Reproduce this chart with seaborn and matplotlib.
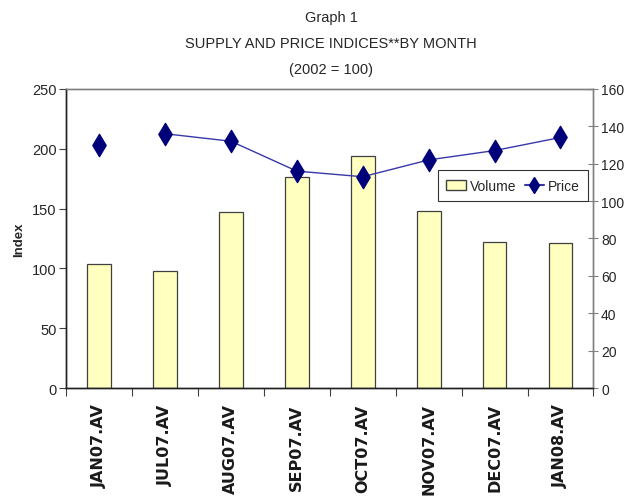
import numpy as np
import pandas as pd
import matplotlib.pyplot as plt
import seaborn as sns
from matplotlib.ticker import FixedLocator

months = ["JAN07.AV", "JUL07.AV", "AUG07.AV", "SEP07.AV",
          "OCT07.AV", "NOV07.AV", "DEC07.AV", "JAN08.AV"]
volume = [104, 98, 147, 176, 194, 148, 122, 121]
price = [130, 136, 132, 116, 113, 122, 127, 134]

left_ticks = [0, 50, 100, 150, 200, 250]
right_ticks = [0, 20, 40, 60, 80, 100, 120, 140, 160]


def main() -> None:
    sns.set_style("white")
    plt.rcParams["font.family"] = ["Liberation Sans", "DejaVu Sans"]

    df = pd.DataFrame({"month": months, "volume": volume})
    pos = np.arange(len(months))

    fig = plt.figure(figsize=(6.24, 5.02), dpi=100)
    ax = fig.add_axes([0.106, 0.225, 0.845, 0.596])

    sns.barplot(data=df, x="month", y="volume", ax=ax, color="#FFFFC0",
                saturation=1, width=0.36, edgecolor="#404040", linewidth=0.9)
    ax.set_xlim(-0.5, len(months) - 0.5)
    ax.set_ylim(0, 250)
    ax.set_yticks(left_ticks)
    ax.set_ylabel("Index", fontsize=9.5, fontweight="bold", labelpad=5)
    ax.set_xlabel("")
    ax.set_xticks(pos)
    ax.set_xticklabels(months, rotation=90, fontsize=11.5, fontweight="bold",
                       family="DejaVu Sans", va="top", color="#1a1a1a")
    ax.xaxis.set_minor_locator(FixedLocator(np.arange(-0.5, len(months), 1.0)))
    ax.tick_params(axis="x", which="major", length=0, pad=11)
    ax.tick_params(axis="x", which="minor", length=6, width=0.8,
                   direction="out", bottom=True, color="#404040")
    ax.tick_params(axis="y", length=5, width=0.8, direction="out", left=True,
                   labelsize=10.5, pad=2, color="#404040")

    ax2 = ax.twinx()
    sns.lineplot(x=pos[1:], y=price[1:], ax=ax2, color="#3838a8", linewidth=1)
    sns.scatterplot(x=pos, y=price, ax=ax2, marker="d", s=130,
                    color="#00007a", edgecolor="#00007a", zorder=5)
    ax2.set_ylim(0, 160)
    ax2.set_yticks(right_ticks)
    ax2.set_ylabel("")
    ax2.tick_params(axis="y", length=7, width=0.8, direction="inout",
                    right=True, labelsize=10, pad=2, color="#808080")

    for a in (ax, ax2):
        for side in ("left", "bottom"):
            a.spines[side].set_color("#202020")
            a.spines[side].set_linewidth(1)
        for side in ("top", "right"):
            a.spines[side].set_color("#808080")
            a.spines[side].set_linewidth(1)
            a.spines[side].set_visible(True)

    handles = [
        plt.Rectangle((0, 0), 1, 1, facecolor="#FFFFC0", edgecolor="#404040"),
        plt.Line2D([], [], color="#3838a8", marker="d", markersize=8,
                   markerfacecolor="#00007a", markeredgecolor="#00007a"),
    ]
    leg = ax2.legend(handles, ["Volume", "Price"], ncol=2, loc="upper left",
                     bbox_to_anchor=(0.705, 0.728), frameon=True,
                     fancybox=False, edgecolor="black", handlelength=1.4,
                     handletextpad=0.3, columnspacing=0.6, borderpad=0.6,
                     borderaxespad=0, prop={"size": 10})
    leg.get_frame().set_linewidth(0.8)

    fig.text(0.531, 0.978,
             "Graph 1\nSUPPLY AND PRICE INDICES**BY MONTH\n(2002 = 100)",
             ha="center", va="top", fontsize=10.5, linespacing=2.1)

    fig.savefig("out.png", dpi=100)
    plt.close(fig)


if __name__ == "__main__":
    main()
